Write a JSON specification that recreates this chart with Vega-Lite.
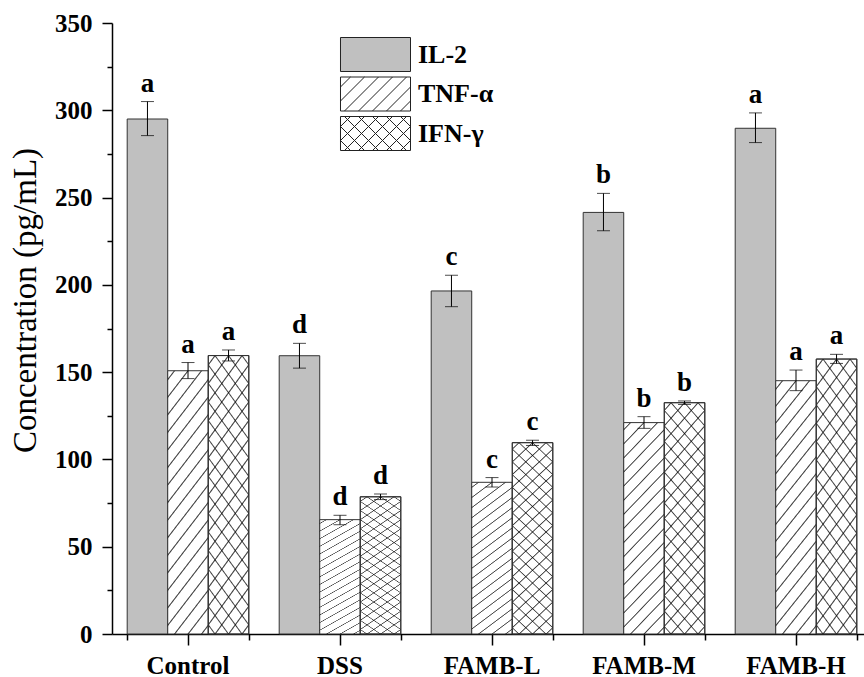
{
  "$schema": "https://vega.github.io/schema/vega-lite/v6.json",
  "width": 752,
  "height": 611,
  "autosize": {"type": "none"},
  "padding": {"left": 112, "top": 23, "right": 0, "bottom": 43},
  "background": "white",
  "config": {
    "view": {"stroke": null},
    "font": "Liberation Serif",
    "axis": {"labelFont": "Liberation Serif", "titleFont": "Liberation Serif", "labelColor": "black", "titleColor": "black", "domainColor": "black", "tickColor": "black", "grid": false}
  },
  "data": {
    "values": [
      {"group": "Control", "key": "IL-2", "value": 295, "lo": 285.5, "hi": 305, "letter": "a"},
      {"group": "Control", "key": "TNF-α", "value": 150.8, "lo": 146.3, "hi": 155.5, "letter": "a"},
      {"group": "Control", "key": "IFN-γ", "value": 159.5, "lo": 156.4, "hi": 162.7, "letter": "a"},
      {"group": "DSS", "key": "IL-2", "value": 159.4, "lo": 152.3, "hi": 166.5, "letter": "d"},
      {"group": "DSS", "key": "TNF-α", "value": 65.5, "lo": 62.6, "hi": 68, "letter": "d"},
      {"group": "DSS", "key": "IFN-γ", "value": 78.6, "lo": 77, "hi": 80.2, "letter": "d"},
      {"group": "FAMB-L", "key": "IL-2", "value": 196.5, "lo": 187.5, "hi": 205.5, "letter": "c"},
      {"group": "FAMB-L", "key": "TNF-α", "value": 86.9, "lo": 84.2, "hi": 89.6, "letter": "c"},
      {"group": "FAMB-L", "key": "IFN-γ", "value": 109.6, "lo": 108, "hi": 111, "letter": "c"},
      {"group": "FAMB-M", "key": "IL-2", "value": 241.5, "lo": 231, "hi": 252.4, "letter": "b"},
      {"group": "FAMB-M", "key": "TNF-α", "value": 121.1, "lo": 117.8, "hi": 124.5, "letter": "b"},
      {"group": "FAMB-M", "key": "IFN-γ", "value": 132.5, "lo": 131.5, "hi": 133.5, "letter": "b"},
      {"group": "FAMB-H", "key": "IL-2", "value": 289.7, "lo": 281.5, "hi": 298.5, "letter": "a"},
      {"group": "FAMB-H", "key": "TNF-α", "value": 145.1, "lo": 139.4, "hi": 151.2, "letter": "a"},
      {"group": "FAMB-H", "key": "IFN-γ", "value": 157.5, "lo": 155, "hi": 160.2, "letter": "a"}
    ]
  },
  "layer": [
    {
      "transform": [{"filter": "datum.key === 'IL-2'"}],
      "mark": {"type": "bar", "stroke": "#333333", "strokeWidth": 1},
      "encoding": {
        "x": {
          "field": "group", "type": "nominal",
          "scale": {"domain": ["Control", "DSS", "FAMB-L", "FAMB-M", "FAMB-H"], "range": [0, 760], "paddingInner": 0.2, "paddingOuter": 0.1},
          "axis": {"orient": "bottom", "title": null, "labelAngle": 0, "labelFontSize": 25, "labelFontWeight": "bold", "tickSize": 11, "tickWidth": 1.5, "domainWidth": 1.5, "labelPadding": 8}
        },
        "xOffset": {"field": "key", "type": "nominal", "scale": {"domain": ["IL-2", "TNF-α", "IFN-γ"]}},
        "y": {
          "field": "value", "type": "quantitative",
          "scale": {"domain": [0, 350], "nice": false},
          "axis": {
            "title": "Concentration (pg/mL)", "titleFontSize": 33, "titleFontWeight": "normal",
            "titleX": -70, "titleY": 277, "titleAngle": 270, "titleBaseline": "bottom", "titleAlign": "center",
            "values": [0, 25, 50, 75, 100, 125, 150, 175, 200, 225, 250, 275, 300, 325, 350],
            "labelExpr": "datum.value % 50 === 0 ? datum.label : ''",
            "labelOverlap": false,
            "tickSize": {"condition": {"test": "datum.value % 50 === 0", "value": 10}, "value": 5},
            "tickWidth": 1.5, "domainWidth": 1.5,
            "labelFontSize": 25, "labelFontWeight": "bold", "labelPadding": 10
          }
        },
        "fill": {
          "field": "key", "type": "nominal",
          "scale": {"domain": ["IL-2", "TNF-α", "IFN-γ"], "range": ["#c0c0c0", "#ffffff", "#ffffff"]},
          "legend": {
            "title": null, "orient": "none", "legendX": 246, "legendY": 14, "padding": 0,
            "symbolType": "M-2.059,-1H2.059V1H-2.059Z", "symbolSize": 1156, "symbolStrokeWidth": 1, "symbolStrokeColor": "#222222",
            "labelFont": "Liberation Serif", "labelFontSize": 26, "labelFontWeight": "bold", "labelColor": "black", "labelOffset": 25, "rowPadding": 0.5,
            "encode": {
              "symbols": {
                "update": {
                  "stroke": {"value": "#222222"},
                  "strokeWidth": {"value": 1},
                  "shape": [
                    {"test": "datum.value === 'TNF-α'", "value": "M-2.059,-1H2.059V1H-2.059ZM-2.059,-0.412L-1.471,-1M-2.059,0.412L-0.647,-1M-1.824,1L0.176,-1M-1,1L1,-1M-0.176,1L1.824,-1M0.647,1L2.059,-0.412M1.471,1L2.059,0.412"},
                    {"test": "datum.value === 'IFN-γ'", "value": "M-2.059,-1H2.059V1H-2.059ZM-2.059,-0.412L-1.471,-1M-2.059,0.412L-0.647,-1M-1.824,1L0.176,-1M-1,1L1,-1M-0.176,1L1.824,-1M0.647,1L2.059,-0.412M1.471,1L2.059,0.412M2.059,-0.412L1.471,-1M2.059,0.412L0.647,-1M1.824,1L-0.176,-1M1,1L-1,-1M0.176,1L-1.824,-1M-0.647,1L-2.059,-0.412M-1.471,1L-2.059,0.412"},
                    {"value": "M-2.059,-1H2.059V1H-2.059Z"}
                  ]
                }
              }
            }
          }
        }
      }
    },
    {
      "transform": [{"filter": "datum.key !== 'IL-2'"}],
      "mark": {
        "type": "bar", "stroke": "#333333", "strokeWidth": 1,
        "fill": {
          "gradient": "linear", "x1": 0, "y1": 0, "x2": 0.231, "y2": 1.154,
          "stops": [
            {"offset": 0, "color": "#ffffff"},
            {"offset": 0.023, "color": "#ffffff"}, {"offset": 0.028, "color": "rgba(0,0,0,0.75)"}, {"offset": 0.033, "color": "#ffffff"},
            {"offset": 0.0786, "color": "#ffffff"}, {"offset": 0.0836, "color": "rgba(0,0,0,0.75)"}, {"offset": 0.0886, "color": "#ffffff"},
            {"offset": 0.1341, "color": "#ffffff"}, {"offset": 0.1391, "color": "rgba(0,0,0,0.75)"}, {"offset": 0.1441, "color": "#ffffff"},
            {"offset": 0.1897, "color": "#ffffff"}, {"offset": 0.1947, "color": "rgba(0,0,0,0.75)"}, {"offset": 0.1997, "color": "#ffffff"},
            {"offset": 0.2452, "color": "#ffffff"}, {"offset": 0.2502, "color": "rgba(0,0,0,0.75)"}, {"offset": 0.2552, "color": "#ffffff"},
            {"offset": 0.3008, "color": "#ffffff"}, {"offset": 0.3058, "color": "rgba(0,0,0,0.75)"}, {"offset": 0.3108, "color": "#ffffff"},
            {"offset": 0.3563, "color": "#ffffff"}, {"offset": 0.3613, "color": "rgba(0,0,0,0.75)"}, {"offset": 0.3663, "color": "#ffffff"},
            {"offset": 0.4119, "color": "#ffffff"}, {"offset": 0.4169, "color": "rgba(0,0,0,0.75)"}, {"offset": 0.4219, "color": "#ffffff"},
            {"offset": 0.4674, "color": "#ffffff"}, {"offset": 0.4724, "color": "rgba(0,0,0,0.75)"}, {"offset": 0.4774, "color": "#ffffff"},
            {"offset": 0.523, "color": "#ffffff"}, {"offset": 0.528, "color": "rgba(0,0,0,0.75)"}, {"offset": 0.533, "color": "#ffffff"},
            {"offset": 0.5786, "color": "#ffffff"}, {"offset": 0.5836, "color": "rgba(0,0,0,0.75)"}, {"offset": 0.5886, "color": "#ffffff"},
            {"offset": 0.6341, "color": "#ffffff"}, {"offset": 0.6391, "color": "rgba(0,0,0,0.75)"}, {"offset": 0.6441, "color": "#ffffff"},
            {"offset": 0.6897, "color": "#ffffff"}, {"offset": 0.6947, "color": "rgba(0,0,0,0.75)"}, {"offset": 0.6997, "color": "#ffffff"},
            {"offset": 0.7452, "color": "#ffffff"}, {"offset": 0.7502, "color": "rgba(0,0,0,0.75)"}, {"offset": 0.7552, "color": "#ffffff"},
            {"offset": 0.8008, "color": "#ffffff"}, {"offset": 0.8058, "color": "rgba(0,0,0,0.75)"}, {"offset": 0.8108, "color": "#ffffff"},
            {"offset": 0.8563, "color": "#ffffff"}, {"offset": 0.8613, "color": "rgba(0,0,0,0.75)"}, {"offset": 0.8663, "color": "#ffffff"},
            {"offset": 0.9119, "color": "#ffffff"}, {"offset": 0.9169, "color": "rgba(0,0,0,0.75)"}, {"offset": 0.9219, "color": "#ffffff"},
            {"offset": 0.9674, "color": "#ffffff"}, {"offset": 0.9724, "color": "rgba(0,0,0,0.75)"}, {"offset": 0.9774, "color": "#ffffff"},
            {"offset": 1, "color": "#ffffff"}
          ]
        }
      },
      "encoding": {
        "x": {"field": "group", "type": "nominal", "axis": null},
        "xOffset": {"field": "key", "type": "nominal", "scale": {"domain": ["IL-2", "TNF-α", "IFN-γ"]}},
        "y": {"field": "value", "type": "quantitative"}
      }
    },
    {
      "transform": [{"filter": "datum.key === 'IFN-γ'"}],
      "mark": {
        "type": "bar", "stroke": "#333333", "strokeWidth": 1,
        "fill": {
          "gradient": "linear", "x1": 1, "y1": 0, "x2": 0.769, "y2": 1.154,
          "stops": [
            {"offset": 0, "color": "rgba(0,0,0,0)"},
            {"offset": 0.023, "color": "rgba(0,0,0,0)"}, {"offset": 0.028, "color": "rgba(0,0,0,0.75)"}, {"offset": 0.033, "color": "rgba(0,0,0,0)"},
            {"offset": 0.0786, "color": "rgba(0,0,0,0)"}, {"offset": 0.0836, "color": "rgba(0,0,0,0.75)"}, {"offset": 0.0886, "color": "rgba(0,0,0,0)"},
            {"offset": 0.1341, "color": "rgba(0,0,0,0)"}, {"offset": 0.1391, "color": "rgba(0,0,0,0.75)"}, {"offset": 0.1441, "color": "rgba(0,0,0,0)"},
            {"offset": 0.1897, "color": "rgba(0,0,0,0)"}, {"offset": 0.1947, "color": "rgba(0,0,0,0.75)"}, {"offset": 0.1997, "color": "rgba(0,0,0,0)"},
            {"offset": 0.2452, "color": "rgba(0,0,0,0)"}, {"offset": 0.2502, "color": "rgba(0,0,0,0.75)"}, {"offset": 0.2552, "color": "rgba(0,0,0,0)"},
            {"offset": 0.3008, "color": "rgba(0,0,0,0)"}, {"offset": 0.3058, "color": "rgba(0,0,0,0.75)"}, {"offset": 0.3108, "color": "rgba(0,0,0,0)"},
            {"offset": 0.3563, "color": "rgba(0,0,0,0)"}, {"offset": 0.3613, "color": "rgba(0,0,0,0.75)"}, {"offset": 0.3663, "color": "rgba(0,0,0,0)"},
            {"offset": 0.4119, "color": "rgba(0,0,0,0)"}, {"offset": 0.4169, "color": "rgba(0,0,0,0.75)"}, {"offset": 0.4219, "color": "rgba(0,0,0,0)"},
            {"offset": 0.4674, "color": "rgba(0,0,0,0)"}, {"offset": 0.4724, "color": "rgba(0,0,0,0.75)"}, {"offset": 0.4774, "color": "rgba(0,0,0,0)"},
            {"offset": 0.523, "color": "rgba(0,0,0,0)"}, {"offset": 0.528, "color": "rgba(0,0,0,0.75)"}, {"offset": 0.533, "color": "rgba(0,0,0,0)"},
            {"offset": 0.5786, "color": "rgba(0,0,0,0)"}, {"offset": 0.5836, "color": "rgba(0,0,0,0.75)"}, {"offset": 0.5886, "color": "rgba(0,0,0,0)"},
            {"offset": 0.6341, "color": "rgba(0,0,0,0)"}, {"offset": 0.6391, "color": "rgba(0,0,0,0.75)"}, {"offset": 0.6441, "color": "rgba(0,0,0,0)"},
            {"offset": 0.6897, "color": "rgba(0,0,0,0)"}, {"offset": 0.6947, "color": "rgba(0,0,0,0.75)"}, {"offset": 0.6997, "color": "rgba(0,0,0,0)"},
            {"offset": 0.7452, "color": "rgba(0,0,0,0)"}, {"offset": 0.7502, "color": "rgba(0,0,0,0.75)"}, {"offset": 0.7552, "color": "rgba(0,0,0,0)"},
            {"offset": 0.8008, "color": "rgba(0,0,0,0)"}, {"offset": 0.8058, "color": "rgba(0,0,0,0.75)"}, {"offset": 0.8108, "color": "rgba(0,0,0,0)"},
            {"offset": 0.8563, "color": "rgba(0,0,0,0)"}, {"offset": 0.8613, "color": "rgba(0,0,0,0.75)"}, {"offset": 0.8663, "color": "rgba(0,0,0,0)"},
            {"offset": 0.9119, "color": "rgba(0,0,0,0)"}, {"offset": 0.9169, "color": "rgba(0,0,0,0.75)"}, {"offset": 0.9219, "color": "rgba(0,0,0,0)"},
            {"offset": 0.9674, "color": "rgba(0,0,0,0)"}, {"offset": 0.9724, "color": "rgba(0,0,0,0.75)"}, {"offset": 0.9774, "color": "rgba(0,0,0,0)"},
            {"offset": 1, "color": "rgba(0,0,0,0)"}
          ]
        }
      },
      "encoding": {
        "x": {"field": "group", "type": "nominal", "axis": null},
        "xOffset": {"field": "key", "type": "nominal", "scale": {"domain": ["IL-2", "TNF-α", "IFN-γ"]}},
        "y": {"field": "value", "type": "quantitative"}
      }
    },
    {
      "mark": {"type": "rule", "color": "black", "strokeWidth": 1},
      "encoding": {
        "x": {"field": "group", "type": "nominal", "axis": {"orient": "bottom", "title": null, "labels": false, "domain": false, "tickBand": "extent", "tickSize": 6, "tickWidth": 1.5}},
        "xOffset": {"field": "key", "type": "nominal", "scale": {"domain": ["IL-2", "TNF-α", "IFN-γ"]}},
        "y": {"field": "lo", "type": "quantitative"},
        "y2": {"field": "hi"}
      }
    },
    {
      "mark": {"type": "tick", "color": "black", "thickness": 1, "size": 13},
      "encoding": {
        "x": {"field": "group", "type": "nominal", "axis": null},
        "xOffset": {"field": "key", "type": "nominal", "scale": {"domain": ["IL-2", "TNF-α", "IFN-γ"]}},
        "y": {"field": "hi", "type": "quantitative"}
      }
    },
    {
      "mark": {"type": "tick", "color": "black", "thickness": 1, "size": 13},
      "encoding": {
        "x": {"field": "group", "type": "nominal", "axis": null},
        "xOffset": {"field": "key", "type": "nominal", "scale": {"domain": ["IL-2", "TNF-α", "IFN-γ"]}},
        "y": {"field": "lo", "type": "quantitative"}
      }
    },
    {
      "mark": {"type": "text", "font": "Liberation Serif", "fontSize": 27, "fontWeight": "bold", "color": "black", "dy": -10, "baseline": "alphabetic"},
      "encoding": {
        "x": {"field": "group", "type": "nominal", "axis": null},
        "xOffset": {"field": "key", "type": "nominal", "scale": {"domain": ["IL-2", "TNF-α", "IFN-γ"]}},
        "y": {"field": "hi", "type": "quantitative"},
        "text": {"field": "letter"}
      }
    }
  ],
  "resolve": {"axis": {"x": "independent"}}
}
